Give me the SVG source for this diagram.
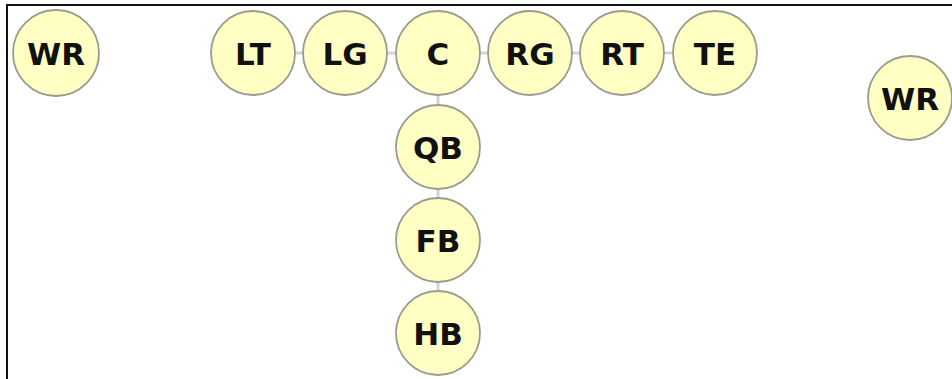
<svg xmlns="http://www.w3.org/2000/svg" width="952" height="379" viewBox="0 0 952 379">
  <style>
    .player circle { fill: #ffffc4; stroke: #9c9c8c; stroke-width: 1.8; }
    .player text { font-family: "DejaVu Sans", "Liberation Sans", sans-serif; font-weight: bold; font-size: 31px; fill: #111; text-anchor: middle; dominant-baseline: central; }
    .link { stroke: #d4d4d4; stroke-width: 3; }
    .frame { stroke: #111; stroke-width: 2; fill: none; }
  </style>
  <rect width="952" height="379" fill="#ffffff"/>
  <!-- field frame (top and left edges) -->
  <path class="frame" d="M7 379 V5 H952"/>
  <!-- formation links -->
  <g id="connectors">
    <line class="link" x1="253" y1="53" x2="345" y2="53"/>
    <line class="link" x1="345" y1="53" x2="438" y2="53"/>
    <line class="link" x1="438" y1="53" x2="530" y2="53"/>
    <line class="link" x1="530" y1="53" x2="622" y2="53"/>
    <line class="link" x1="622" y1="53" x2="715" y2="53"/>
    <line class="link" x1="438" y1="53" x2="438" y2="147"/>
    <line class="link" x1="438" y1="147" x2="438" y2="240"/>
    <line class="link" x1="438" y1="240" x2="438" y2="333"/>
  </g>
  <g id="wr-left" class="player"><circle cx="56" cy="53" r="43"/><text x="56" y="54">WR</text></g>
  <g id="lt" class="player"><circle cx="253" cy="53" r="42"/><text x="253" y="54">LT</text></g>
  <g id="lg" class="player"><circle cx="345" cy="53" r="42"/><text x="345" y="54">LG</text></g>
  <g id="c" class="player"><circle cx="438" cy="53" r="42"/><text x="438" y="54">C</text></g>
  <g id="rg" class="player"><circle cx="530" cy="53" r="42"/><text x="530" y="54">RG</text></g>
  <g id="rt" class="player"><circle cx="622" cy="53" r="42"/><text x="622" y="54">RT</text></g>
  <g id="te" class="player"><circle cx="715" cy="53" r="42"/><text x="715" y="54">TE</text></g>
  <g id="wr-right" class="player"><circle cx="910" cy="98" r="42"/><text x="910" y="99">WR</text></g>
  <g id="qb" class="player"><circle cx="438" cy="147" r="42"/><text x="438" y="148">QB</text></g>
  <g id="fb" class="player"><circle cx="438" cy="240" r="42"/><text x="438" y="241">FB</text></g>
  <g id="hb" class="player"><circle cx="438" cy="333" r="42"/><text x="438" y="334">HB</text></g>
</svg>
